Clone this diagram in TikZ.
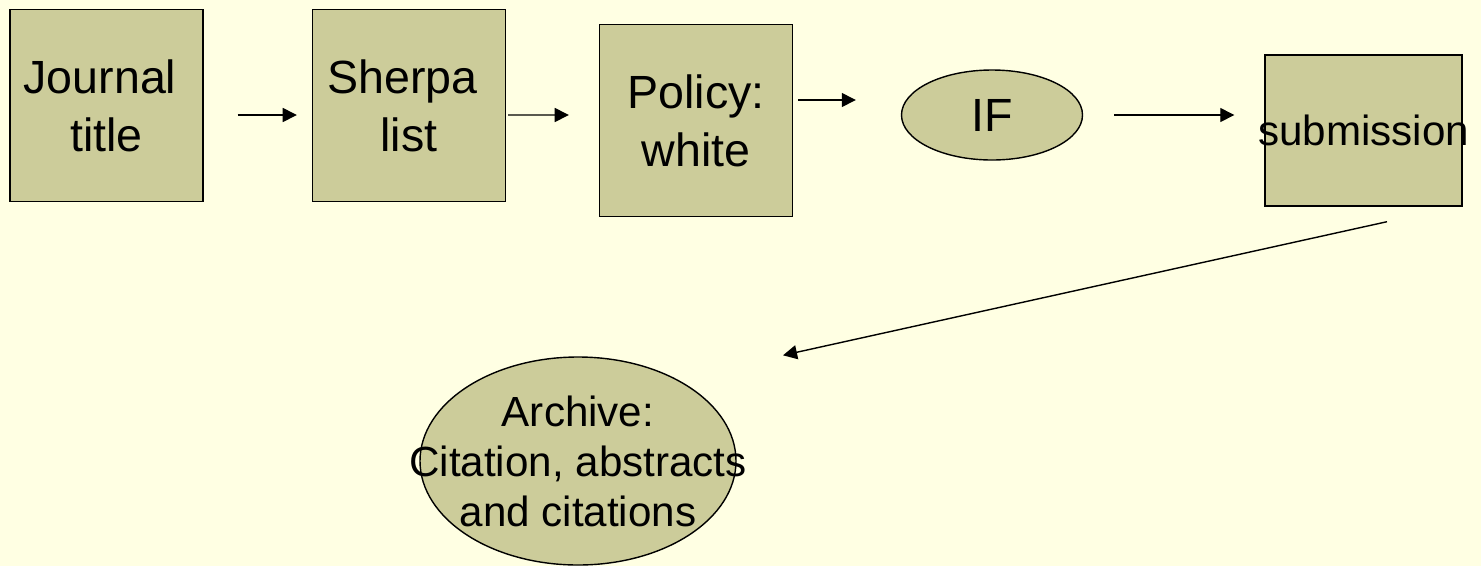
\documentclass[tikz,border=0pt]{standalone}
\usepackage{fontspec}
\setmainfont{Liberation Sans}
\usetikzlibrary{arrows.meta,shapes.geometric}
\definecolor{slidebg}{HTML}{FFFFE3}
\definecolor{boxfill}{HTML}{CCCC9A}

\begin{document}
\begin{tikzpicture}[x=0.02cm, y=-0.02cm,
        boxnode/.style={rectangle, draw=black, fill=boxfill, line width=0.8pt, inner sep=0pt, align=center, minimum width=193*0.02cm, minimum height=192*0.02cm, font=\fontsize{26.5}{33}\selectfont},
        ovalnode/.style={ellipse, draw=black, fill=boxfill, line width=0.8pt, inner sep=0pt},
        flowarrow/.style={-{Triangle[length=8pt,width=8pt]}, line width=0.8pt}]
        \fill[slidebg] (0,0) rectangle (1481,566);
        \useasboundingbox (0,0) rectangle (1481,566);

        \node[boxnode] (J) at (106.5,105.5) {Journal\hspace*{0.28em}\\title};
        \node[boxnode] (S) at (409,105.5) {Sherpa\hspace*{0.28em}\\list};
        \node[boxnode] (P) at (696,120.5) {Policy:\\white};
        \node[ovalnode, minimum width=181*0.02cm, minimum height=90*0.02cm, font=\fontsize{26.5}{33}\selectfont] (IF) at (992,115) {IF};
        \node[boxnode, minimum width=197*0.02cm, minimum height=151*0.02cm, font=\fontsize{24}{28.5}\selectfont] (Sub) at (1363.5,130.5) {\makebox[0pt]{submission}};
        \node[ovalnode, minimum width=316*0.02cm, minimum height=208*0.02cm,
              label={[align=center, font=\fontsize{24}{28.5}\selectfont]center:{Archive:\\Citation, abstracts\\and citations}}] (AR) at (578,461) {};

        \draw[flowarrow] ([shift={(34,9.5)}]J.east) -- ([shift={(-15,9.5)}]S.west);
        \draw[flowarrow] ([shift={(2,9.5)}]S.east) -- ([shift={(-30,-5.5)}]P.west);
        \draw[flowarrow] ([shift={(5,-20.5)}]P.east) -- ([shift={(-45,-15)}]IF.west);
        \draw[flowarrow] ([shift={(31,0)}]IF.east) -- ([shift={(-30,-15.5)}]Sub.west);
        \draw[flowarrow] ([shift={(23.5,15)}]Sub.south) -- ([shift={(205,-1)}]AR.north);

    \end{tikzpicture}
\end{document}
